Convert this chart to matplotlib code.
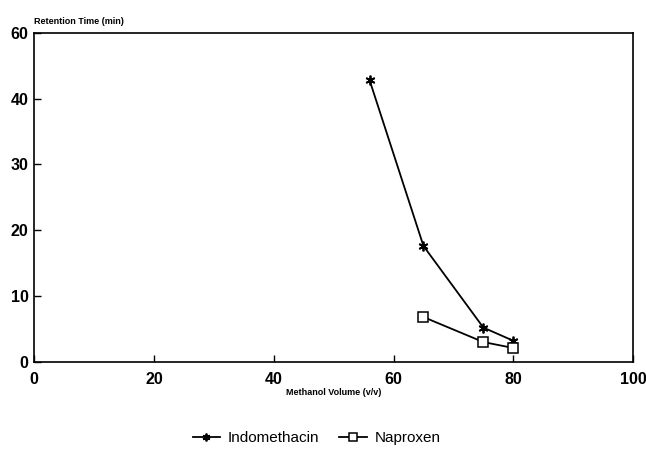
#!/usr/bin/env python3
"""
Retention time of indomethacin and naproxen vs. methanol content of the mobile phase.
"""

import matplotlib
matplotlib.use("Agg")
import matplotlib.pyplot as plt

# methanol volume (% v/v) and retention times (min)
indo_methanol = [56, 65, 75, 80]
indo_time = [42.8, 17.6, 5.2, 3.2]

napro_methanol = [65, 75, 80]
napro_time = [6.8, 3.0, 2.1]

x_ticks = [0, 20, 40, 60, 80, 100]
y_ticks = [0, 10, 20, 30, 40, 50]
y_tick_labels = ["0", "10", "20", "30", "40", "60"]

plt.rcParams["font.family"] = ["Liberation Sans", "DejaVu Sans"]

fig = plt.figure(figsize=(6.46, 4.5), dpi=100)
ax = fig.add_axes([0.053, 0.196, 0.927, 0.731])

ax.plot(indo_methanol, indo_time, color="black", lw=1.3,
        marker=(6, 2, 0), ms=7, mew=1.3, label="Indomethacin")
ax.plot(napro_methanol, napro_time, color="black", lw=1.3,
        marker="s", ms=6.5, mfc="white", mew=1.1, label="Naproxen")

ax.set_xlim(0, 100)
ax.set_ylim(0, 50)
ax.set_xticks(x_ticks)
ax.set_yticks(y_ticks)
ax.set_yticklabels(y_tick_labels)
ax.tick_params(direction="in", length=5, width=1, labelsize=11.5)
ax.tick_params(axis="x", pad=7)
ax.tick_params(axis="y", pad=4)
for lbl in ax.get_xticklabels() + ax.get_yticklabels():
    lbl.set_fontweight("bold")
for s in ax.spines.values():
    s.set_linewidth(1.2)

ax.text(0.0, 1.02, "Retention Time (min)", transform=ax.transAxes,
        fontsize=6.5, fontweight="bold", ha="left", va="bottom")
ax.set_xlabel("Methanol Volume (v/v)", fontsize=6.5, fontweight="bold", labelpad=1)

fig.legend(loc="lower center", bbox_to_anchor=(0.49, -0.02), ncol=2, frameon=False,
           fontsize=11, handlelength=1.8, handletextpad=0.5, columnspacing=1.3,
           markerscale=0.8)

fig.savefig("out.png", dpi=100)
